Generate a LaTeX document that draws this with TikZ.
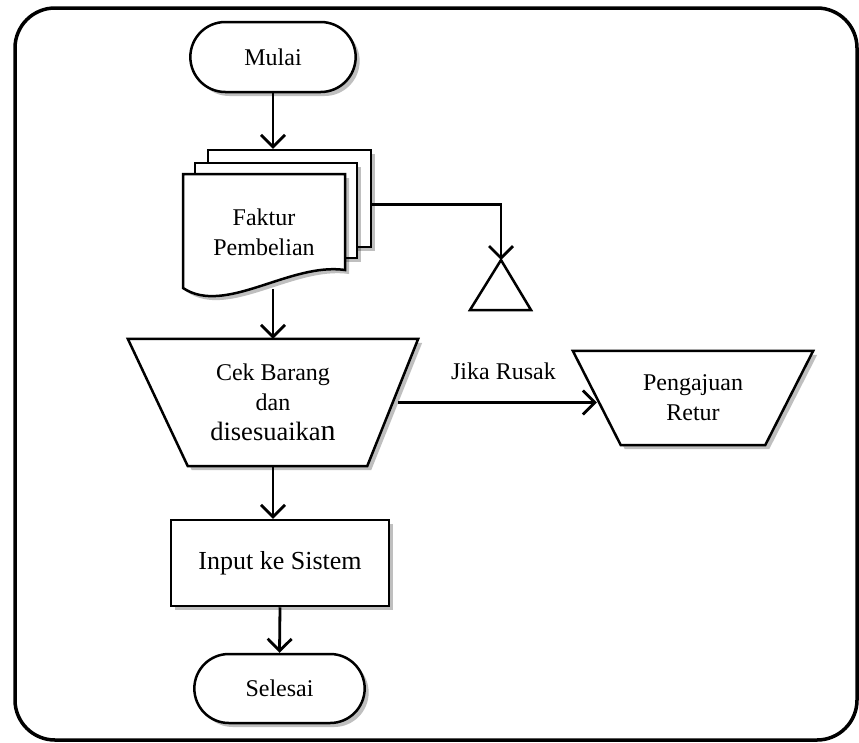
\documentclass[tikz,border=0pt]{standalone}
\usepackage{fontspec}
\setmainfont{Liberation Serif}
\usetikzlibrary{shapes.geometric, shapes.misc, arrows.meta, positioning, shadows, backgrounds, calc}
\tikzset{
    bayang/.style={drop shadow={shadow xshift=4pt, shadow yshift=-4pt, opacity=0.25, fill=black}},
    bentuk/.style={draw, line width=2.5pt, fill=white, bayang},
    terminal/.style={rounded rectangle, bentuk},
    lembar/.style={rectangle, bentuk},
    proses/.style={rectangle, bentuk, font=\fontsize{26}{30}\selectfont},
    manual/.style={rectangle, align=center, inner sep=0pt},
    panah/.style={line width=2.8pt, -{Straight Barb[length=12pt, width=24pt]}}
}

\begin{document}
\begin{tikzpicture}[x=1pt, y=-1pt, font=\fontsize{24}{30}\selectfont]
    \useasboundingbox (0,0) rectangle (859,742);

    % Bingkai
    \draw[line width=3.5pt, rounded corners=40pt] (15,8) rectangle (857,740);

    % Simbol
    \node[terminal, minimum width=172pt, minimum height=70pt] (mulai) at (273,57) {Mulai};

    \node[lembar, minimum width=163pt, minimum height=97pt] (lembar3) at (289.5,198.5) {};
    \node[lembar, minimum width=162pt, minimum height=95pt] (lembar2) at (276,210.5) {};
    \draw[bentuk] (183,174) -- (345,174) -- (345,270)
        .. controls (290,262) and (225,316) .. (183,288) -- cycle;
    \node[align=center, minimum width=162pt, minimum height=114pt] (faktur) at (264,232) {Faktur\\Pembelian};

    \coordinate (arsip) at (501,260);
    \draw[line width=2.5pt] (arsip) -- (531,310) -- (470,310) -- cycle;

    \node[manual, minimum width=290pt, minimum height=127pt] (cek) at (273,402.5)
        {Cek Barang\\dan\\{\fontsize{26.5}{30}\selectfont disesuaika\fontsize{30}{30}\selectfont n}};
    \node[manual, minimum width=240pt, minimum height=94pt] (retur) at (693,398) {Pengajuan\\Retur};

    \begin{scope}[on background layer]
        \draw[bentuk] (cek.north west) -- (cek.north east) -- ([xshift=-51pt]cek.south east)
            -- ([xshift=60pt]cek.south west) -- cycle;
        \draw[bentuk] (retur.north west) -- (retur.north east) -- ([xshift=-48pt]retur.south east)
            -- ([xshift=48pt]retur.south west) -- cycle;
    \end{scope}

    \node[proses, minimum width=218pt, minimum height=86pt] (input) at (280,563) {Input ke Sistem};
    \node[terminal, minimum width=177pt, minimum height=69pt] (selesai) at (279.5,688.5) {Selesai};

    % Alur
    \draw[panah] (mulai.south) -- (mulai.south |- lembar3.north);
    \draw[panah] ([yshift=-6pt]lembar3.east) -| (arsip);
    \draw[panah] (cek.north |- faktur.south) -- (cek.north);
    \draw[panah] ([xshift=-20pt]cek.east) -- ($(cek.east -| retur.west)+(24,0)$)
        node[pos=0.53, above=18pt] {Jika Rusak};
    \draw[panah] (cek.north |- cek.south) -- (cek.north |- input.north);
    \draw[panah] (input.south) -- (selesai.north);
\end{tikzpicture}
\end{document}
